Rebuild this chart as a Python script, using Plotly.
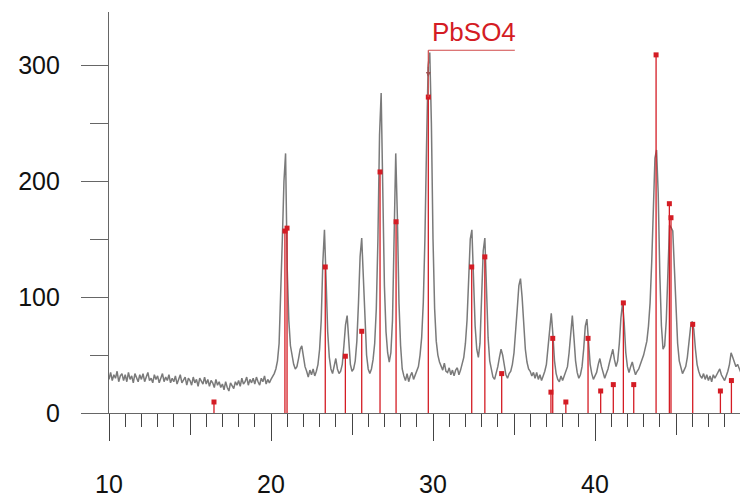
import plotly.graph_objects as go

# Measured pattern (2-theta grid from 10.0 to 49.0 in 0.1 steps)
start_2theta = 10.0
step_2theta = 0.1
intensity = [
    29, 35, 28, 33, 30, 36, 27, 32, 34, 28,         # 10.0
    33, 27, 35, 29, 32, 26, 34, 30, 27, 33,         # 11.0
    29, 34, 27, 31, 35, 28, 30, 26, 33, 29,         # 12.0
    32, 26, 30, 34, 27, 31, 28, 33, 26, 30,         # 13.0
    27, 32, 25, 30, 33, 26, 29, 31, 24, 30,         # 14.0
    28, 24, 31, 26, 29, 23, 30, 27, 25, 31,         # 15.0
    25, 29, 23, 28, 26, 22, 29, 24, 27, 22,         # 16.0
    25, 20, 27, 22, 19, 26, 23, 21, 27, 24,         # 17.0
    28, 23, 30, 25, 27, 31, 24, 29, 26, 30,         # 18.0
    25, 31, 27, 24, 30, 27, 32, 25, 29, 26,         # 19.0
    29, 31, 34, 38, 45, 60, 100, 150, 200, 224,     # 20.0
    125, 80, 58, 48, 42, 38, 40, 47, 55, 58,        # 21.0
    48, 40, 36, 31, 37, 33, 38, 32, 36, 42,         # 22.0
    55, 80, 130, 158, 115, 70, 48, 38, 34, 40,      # 23.0
    47, 38, 34, 36, 42, 58, 76, 84, 60, 42,         # 24.0
    36, 38, 45, 62, 95, 135, 151, 120, 75, 50,      # 25.0
    38, 34, 38, 46, 60, 90, 150, 240, 276, 190,     # 26.0
    110, 70, 52, 44, 52, 80, 150, 224, 170, 95,     # 27.0
    58, 38, 32, 28, 34, 27, 32, 35, 29, 33,         # 28.0
    36, 40, 50, 65, 95, 150, 230, 300, 311, 250,    # 29.0
    150, 90, 62, 50, 44, 40, 37, 43, 36, 35,        # 30.0
    39, 33, 37, 32, 37, 39, 33, 37, 42, 48,         # 31.0
    60, 80, 115, 150, 158, 120, 75, 55, 48, 60,     # 32.0
    95, 140, 151, 110, 65, 45, 36, 31, 29, 34,      # 33.0
    40, 48, 55, 50, 40, 33, 30, 34, 36, 42,         # 34.0
    52, 68, 90, 110, 116, 100, 75, 55, 44, 38,      # 35.0
    36, 32, 35, 30, 35, 29, 33, 28, 32, 36,         # 36.0
    42, 55, 72, 86, 68, 45, 34, 29, 27, 32,         # 37.0
    28, 32, 35, 40, 52, 72, 84, 65, 45, 35,         # 38.0
    30, 33, 40, 55, 75, 81, 62, 42, 34, 29,         # 39.0
    32, 35, 42, 47, 40, 34, 30, 34, 38, 44,         # 40.0
    50, 55, 46, 40, 45, 60, 82, 95, 78, 52,         # 41.0
    40, 35, 40, 44, 38, 33, 36, 38, 42, 46,         # 42.0
    50, 56, 62, 75, 95, 130, 180, 220, 227, 190,    # 43.0
    120, 75, 55, 58, 80, 130, 162, 160, 157, 125,   # 44.0
    85, 60, 45, 38, 34, 37, 40, 48, 62, 74,         # 45.0
    79, 72, 55, 42, 36, 32, 30, 34, 29, 33,         # 46.0
    28, 32, 27, 33, 30, 33, 36, 38, 33, 30,         # 47.0
    28, 32, 36, 42, 52, 48, 44, 40, 42, 38,         # 48.0
    35,                                             # 49.0
]
two_theta = [round(start_2theta + step_2theta * i, 2) for i in range(len(intensity))]

# Reference (PbSO4) stick pattern
ref_pos = [16.48, 20.86, 20.99, 23.35, 24.59, 25.6, 26.73, 27.72, 29.71, 32.39,
           33.2, 34.24, 37.28, 37.39, 38.2, 39.57, 40.35, 41.13, 41.75, 42.39,
           43.77, 44.59, 44.69, 46.03, 47.74, 48.42]
ref_int = [9.5, 157, 159.5, 126, 49, 70.5, 208, 165, 272.6, 126,
           134.7, 34, 18, 64.4, 9.5, 64.4, 19, 24.5, 95, 24.5,
           309, 180.6, 168.5, 76.5, 19, 28]

major_ticks = [10, 20, 30, 40]
mid_ticks = [15, 25, 35, 45]
y_ticks = [0, 100, 200, 300]
phase_label = "PbSO4"

stick_x, stick_y = [], []
for p, h in zip(ref_pos, ref_int):
    stick_x += [p, p, None]
    stick_y += [0, h, None]

RED = "#d41c24"
AX = "#666666"

fig = go.Figure()
fig.add_trace(go.Scatter(x=two_theta, y=intensity, mode="lines",
                         line=dict(color="#7a7a7a", width=1.5), hoverinfo="skip"))
fig.add_trace(go.Scatter(x=stick_x, y=stick_y, mode="lines",
                         line=dict(color=RED, width=1.3), hoverinfo="skip"))
fig.add_trace(go.Scatter(x=ref_pos, y=ref_int, mode="markers",
                         marker=dict(symbol="square", size=5, color=RED), hoverinfo="skip"))
fig.add_trace(go.Scatter(x=[major_ticks[0]], y=[0], xaxis="x2", mode="markers",
                         marker=dict(opacity=0), hoverinfo="skip"))

xr = [10, 48.95]
fig.update_layout(
    width=740, height=498,
    margin=dict(l=109, r=0, t=12, b=76),
    paper_bgcolor="white", plot_bgcolor="white",
    showlegend=False,
    font=dict(family="Liberation Sans, Arial, sans-serif", color="#111111"),
    xaxis=dict(range=xr, showgrid=False, zeroline=False, showline=True,
               linecolor=AX, linewidth=1.2,
               tickmode="array", tickvals=major_ticks, ticks="outside",
               ticklen=27, tickwidth=1.2, tickcolor="#444444",
               tickfont=dict(size=25), ticklabelstandoff=22,
               minor=dict(dtick=1, tick0=10, ticks="outside", ticklen=13,
                          tickwidth=1.2, tickcolor="#444444", showgrid=False)),
    xaxis2=dict(range=xr, overlaying="x", side="bottom", showgrid=False,
                zeroline=False, showline=False, tickmode="array",
                tickvals=mid_ticks, ticks="outside", ticklen=21, tickwidth=1.2,
                tickcolor="#444444", showticklabels=False),
    yaxis=dict(range=[0, 346], showgrid=False, zeroline=False, showline=True,
               linecolor=AX, linewidth=1.2,
               tickmode="array", tickvals=y_ticks, ticks="outside",
               ticklen=27, tickwidth=1.2, tickcolor=AX,
               tickfont=dict(size=25), ticklabelstandoff=16,
               minor=dict(dtick=50, tick0=0, ticks="outside", ticklen=18,
                          tickwidth=1.2, tickcolor=AX, showgrid=False)),
)

# phase label with leader line
LEAD = "#d04848"
fig.add_shape(type="line", x0=29.71, x1=35.05, y0=313, y1=313,
              line=dict(color=LEAD, width=1.2))
fig.add_shape(type="line", x0=29.71, x1=29.71, y0=313, y1=272.6,
              line=dict(color=LEAD, width=1.2))
fig.add_annotation(x=29.71, y=290, ax=29.71, ay=300, axref="x", ayref="y",
                   xref="x", yref="y", showarrow=True, arrowhead=2,
                   arrowsize=0.8, arrowwidth=1.2, arrowcolor="#a05050", text="")
fig.add_annotation(x=29.8, y=329, xref="x", yref="y", text=phase_label,
                   showarrow=False, xanchor="left", yanchor="middle",
                   font=dict(size=26, color=RED))

fig.write_html("out.html")
